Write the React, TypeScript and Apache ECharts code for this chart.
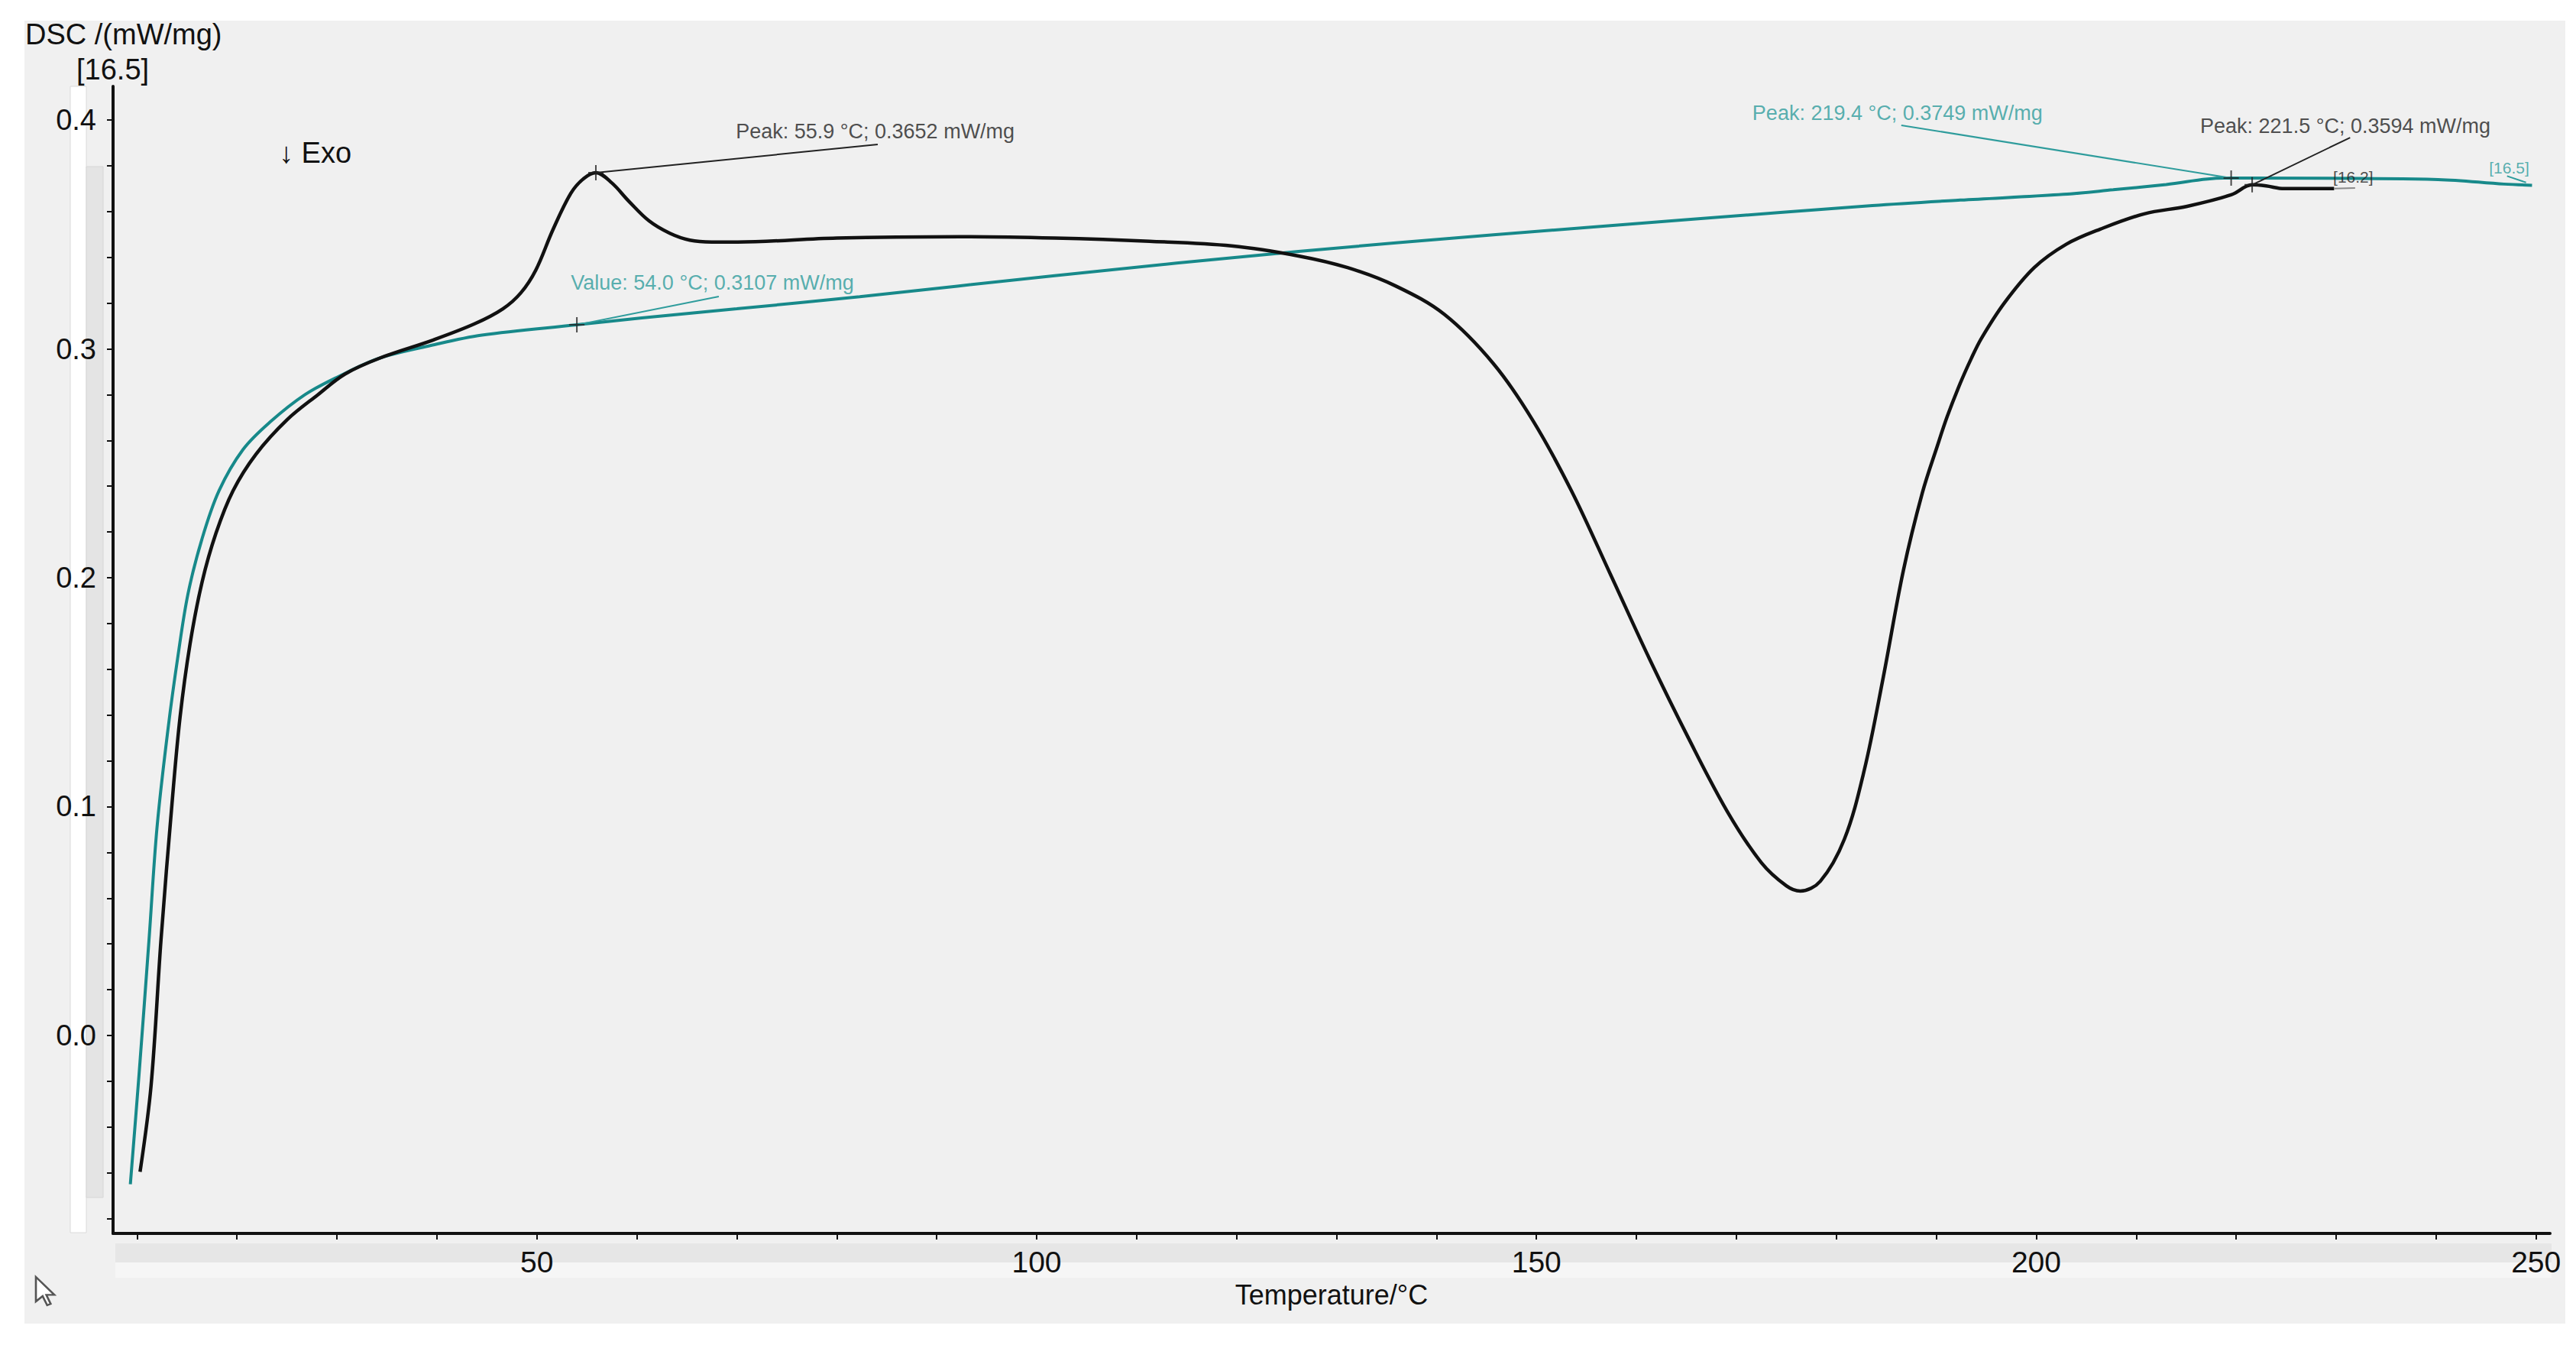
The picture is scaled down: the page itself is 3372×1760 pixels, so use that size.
import React, { useEffect, useRef } from "react";
import * as echarts from "echarts";

// ---- Data ----
const sample162T = [10.3, 11.4, 12.4, 13.5, 14.3, 15.3, 16.5, 17.9, 19.6, 21.9, 25.0, 28.1, 30.8, 34.3, 39.7, 43.8, 46.6, 48.4, 49.9, 51.6, 53.4, 54.7, 55.9, 57.5, 59.2, 61.2, 63.3, 65.3, 67.5, 70.1, 80.0, 92.3, 101.8, 111.3, 119.5, 126.2, 131.1, 135.9, 140.8, 145.7, 149.6, 153.5, 157.4, 161.3, 165.2, 169.1, 172.5, 175.0, 176.4, 178.4, 180.8, 182.8, 184.7, 186.7, 188.6, 190.1, 191.1, 192.4, 193.5, 194.5, 196.8, 199.8, 203.0, 206.4, 210.8, 215.1, 219.5, 221.6, 223.0, 224.8, 229.8];
const sample162V = [-0.0596, -0.022, 0.042, 0.1015, 0.139, 0.171, 0.198, 0.2195, 0.238, 0.254, 0.269, 0.28, 0.289, 0.296, 0.304, 0.311, 0.3175, 0.3245, 0.3345, 0.352, 0.368, 0.3745, 0.377, 0.3725, 0.3645, 0.356, 0.3505, 0.3475, 0.3467, 0.3467, 0.3484, 0.349, 0.3484, 0.347, 0.345, 0.3406, 0.3355, 0.3275, 0.315, 0.2935, 0.269, 0.238, 0.2015, 0.1646, 0.13, 0.0978, 0.0755, 0.0654, 0.0631, 0.0674, 0.0857, 0.116, 0.1566, 0.203, 0.237, 0.2575, 0.2705, 0.285, 0.2958, 0.3045, 0.32, 0.3355, 0.3457, 0.3523, 0.359, 0.3623, 0.3673, 0.3717, 0.3712, 0.37, 0.37];

const sample165T = [9.33, 10.2, 11.2, 12.0, 13.1, 14.1, 15.1, 16.5, 18.2, 20.6, 23.3, 26.8, 30.2, 34.3, 39.4, 44.5, 54.0, 60.5, 70.0, 82.3, 101.8, 126.2, 145.7, 165.2, 183.6, 192.4, 202.7, 207.7, 213.0, 218.7, 221.7, 240.2, 246.8, 249.6];
const sample165V = [-0.065, -0.017, 0.042, 0.091, 0.134, 0.166, 0.193, 0.217, 0.238, 0.256, 0.268, 0.28, 0.288, 0.296, 0.3015, 0.306, 0.3105, 0.3135, 0.3175, 0.3228, 0.332, 0.3426, 0.3498, 0.3565, 0.3626, 0.365, 0.3675, 0.3695, 0.3718, 0.3746, 0.3746, 0.374, 0.372, 0.3715];

const xTickValues = [10, 20, 30, 40, 50, 60, 70, 80, 90, 100, 110, 120, 130, 140, 150, 160, 170, 180, 190, 200, 210, 220, 230, 240, 250];
const xLabelValues = [50, 100, 150, 200, 250];
const yTickValues = [-0.08, -0.06, -0.04, -0.02, 0, 0.02, 0.04, 0.06, 0.08, 0.1, 0.12, 0.14, 0.16, 0.18, 0.2, 0.22, 0.24, 0.26, 0.28, 0.3, 0.32, 0.34, 0.36, 0.38, 0.4];
const yLabelValues = [0, 0.1, 0.2, 0.3, 0.4];

const markT = [55.9, 54.0, 219.5, 221.6];
const markV = [0.377, 0.3105, 0.3746, 0.3717];

const leaderFromT = [55.9, 54.0, 219.5, 221.6, 247.1, 229.8];
const leaderFromV = [0.377, 0.3105, 0.3746, 0.3717, 0.3755, 0.37];
const leaderToT = [84.1, 68.2, 186.5, 231.4, 249.0, 231.9];
const leaderToV = [0.3893, 0.3229, 0.3977, 0.3923, 0.3727, 0.3703];
const leaderKind = ["dark", "teal", "teal", "dark", "teal", "grey"];

const noteText = ["Peak: 55.9 °C; 0.3652 mW/mg", "Value: 54.0 °C; 0.3107 mW/mg", "Peak: 219.4 °C; 0.3749 mW/mg", "Peak: 221.5 °C; 0.3594 mW/mg", "[16.2]", "[16.5]"];
const noteT = [69.9, 53.4, 171.6, 216.4, 229.7, 245.3];
const noteV = [0.395, 0.3289, 0.403, 0.3973, 0.375, 0.379];
const noteKind = ["dark", "teal", "teal", "dark", "dark", "teal"];
const noteSize = [27, 27, 27, 27, 21, 21];

// ---- Styles ----
const FONT = "'Liberation Sans', Arial, sans-serif";
const BLACK = "#111111";
const TEAL = "#17898a";
const TEAL_LIGHT = "#2e9c9c";
const kindColor: Record<string, string> = { dark: "#222222", teal: TEAL_LIGHT, grey: "#8a8a8a" };

echarts.graphic.registerShape(
  "cursorArrow",
  echarts.graphic.extendPath("M0 0 L0 16 L4 12.5 L6.7 18.5 L8.8 17.6 L6.2 11.7 L11 11.7 Z", {})
);

function buildOption() {
  const zip = (a: number[], b: number[]) => a.map((v, i) => [v, b[i]]);
  return {
    animation: false,
    backgroundColor: "#ffffff",
    grid: { left: 148, top: 113, right: 34, bottom: 146, containLabel: false },
    xAxis: {
      type: "value",
      min: 7.6,
      max: 251.4,
      axisLine: { show: true, onZero: false, lineStyle: { color: BLACK, width: 4 } },
      axisTick: { show: true, customValues: xTickValues, length: 8, lineStyle: { color: BLACK, width: 2 } },
      axisLabel: { customValues: xLabelValues, margin: 18, fontSize: 39, color: BLACK, fontFamily: FONT },
      splitLine: { show: false },
      name: "Temperature/°C",
      nameLocation: "middle",
      nameGap: 62,
      nameTextStyle: { fontSize: 36, color: BLACK, fontFamily: FONT },
    },
    yAxis: {
      type: "value",
      min: -0.0865,
      max: 0.4147,
      axisLine: { show: true, onZero: false, lineStyle: { color: BLACK, width: 4 } },
      axisTick: { show: true, customValues: yTickValues, length: 8, lineStyle: { color: BLACK, width: 2 } },
      axisLabel: {
        customValues: yLabelValues,
        margin: 22,
        fontSize: 38,
        color: BLACK,
        fontFamily: FONT,
        formatter: (v: number) => v.toFixed(1),
      },
      splitLine: { show: false },
    },
    graphic: [
      { type: "rect", z: -20, shape: { x: 32, y: 27, width: 3326, height: 1705 }, style: { fill: "#f0f0f0" } },
      { type: "rect", z: -10, shape: { x: 92, y: 113, width: 21, height: 1500 }, style: { fill: "#ffffff", stroke: "#dadada", lineWidth: 1 } },
      { type: "rect", z: -10, shape: { x: 113, y: 218, width: 22, height: 1349 }, style: { fill: "#e4e4e4", stroke: "#d6d6d6", lineWidth: 1 } },
      { type: "rect", z: -10, shape: { x: 151, y: 1627, width: 3189, height: 25 }, style: { fill: "#e6e6e6" } },
      { type: "rect", z: -10, shape: { x: 151, y: 1652, width: 3189, height: 20 }, style: { fill: "#f6f6f6" } },
      { type: "text", z: 10, x: 33, y: 45, style: { text: "DSC /(mW/mg)", fontSize: 38, fontFamily: FONT, fill: BLACK, verticalAlign: "middle", align: "left" } },
      { type: "text", z: 10, x: 100, y: 91, style: { text: "[16.5]", fontSize: 38, fontFamily: FONT, fill: BLACK, verticalAlign: "middle", align: "left" } },
      { type: "text", z: 10, x: 365, y: 200, style: { text: "↓ Exo", fontSize: 38, fontFamily: FONT, fill: BLACK, verticalAlign: "middle", align: "left" } },
      { type: "cursorArrow", z: 10, x: 47, y: 1671, scaleX: 2.2, scaleY: 2.0, style: { fill: "#ffffff", stroke: "#555555", lineWidth: 1.2 } },
    ],
    series: [
      {
        name: "[16.2]",
        type: "line",
        data: zip(sample162T, sample162V),
        showSymbol: false,
        symbol: "none",
        smooth: 0.35,
        lineStyle: { color: BLACK, width: 4.5 },
        z: 3,
      },
      {
        name: "[16.5]",
        type: "line",
        data: zip(sample165T, sample165V),
        showSymbol: false,
        symbol: "none",
        smooth: 0.35,
        lineStyle: { color: TEAL, width: 4 },
        z: 2,
      },
      {
        name: "leaders",
        type: "lines",
        coordinateSystem: "cartesian2d",
        silent: true,
        z: 4,
        data: leaderFromT.map((t, i) => ({
          coords: [
            [t, leaderFromV[i]],
            [leaderToT[i], leaderToV[i]],
          ],
          lineStyle: { color: kindColor[leaderKind[i]], width: 2, opacity: 1 },
        })),
      },
      {
        name: "marks",
        type: "scatter",
        silent: true,
        z: 5,
        symbol: "path://M10 0 L10 20 M0 10 L20 10",
        symbolSize: 20,
        itemStyle: { color: "none", borderColor: "#222222", borderWidth: 2 },
        data: zip(markT, markV),
      },
      {
        name: "notes",
        type: "scatter",
        silent: true,
        z: 6,
        symbolSize: 0,
        data: noteT.map((t, i) => ({
          value: [t, noteV[i]],
          label: {
            show: true,
            position: "right",
            distance: 0,
            formatter: noteText[i],
            color: kindColor[noteKind[i]],
            fontSize: noteSize[i],
            fontFamily: FONT,
          },
        })),
      },
    ],
  };
}

export default function App() {
  const ref = useRef<HTMLDivElement>(null);
  useEffect(() => {
    if (!ref.current) return;
    const chart = echarts.init(ref.current, null, { renderer: "svg" });
    chart.setOption(buildOption() as any);
    return () => chart.dispose();
  }, []);
  return (
    <div
      ref={ref}
      style={{ position: "fixed", left: 0, top: 0, width: 3372, height: 1760 }}
    />
  );
}
